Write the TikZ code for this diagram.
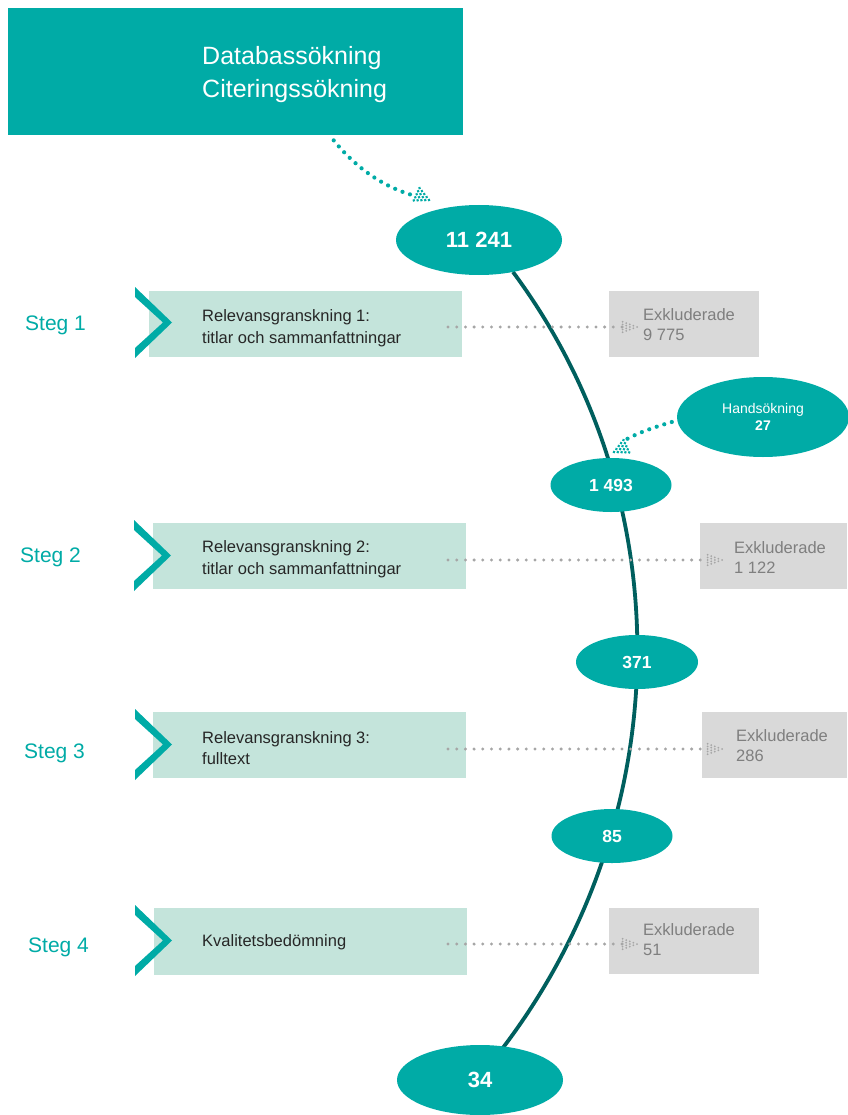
\documentclass[tikz,border=0pt]{standalone}
\usepackage{fontspec}
\setmainfont{Liberation Sans}
\usetikzlibrary{shapes.geometric}
\definecolor{teal1}{HTML}{00ABA6}
\definecolor{mint}{HTML}{C4E4DB}
\definecolor{darkteal}{HTML}{005F5E}
\definecolor{greybox}{HTML}{D9D9D9}
\definecolor{greytxt}{HTML}{7F7F7F}
\definecolor{greydot}{HTML}{A6A6A6}
\definecolor{boxtxt}{HTML}{262626}
\tikzset{
  ell/.style={ellipse, fill=teal1, text=white, inner sep=0pt, font=\bfseries},
  mintbox/.style={fill=mint, anchor=north west, inner sep=0pt, minimum width=313pt, minimum height=66pt},
  exbox/.style={fill=greybox, anchor=north west, inner sep=0pt, minimum height=66pt},
  boxtext/.style={anchor=west, align=left, text=boxtxt, inner sep=0pt, font=\fontsize{16.5}{21.5}\selectfont},
  extext/.style={anchor=west, align=left, text=greytxt, inner sep=0pt, font=\fontsize{16.5}{20}\selectfont},
  steglabel/.style={anchor=west, text=teal1, inner sep=0pt, font=\fontsize{21}{25}\selectfont},
  greydotline/.style={draw=greydot, line width=3.3pt, dash pattern=on 0pt off 8.7pt, line cap=round},
  tealdotline/.style={draw=teal1, line width=4.2pt, dash pattern=on 0pt off 7.9pt, line cap=round},
  chev/.pic={\fill[teal1] (0,0) -- (37,35.5) -- (0,71) -- (0,61) -- (28,35.5) -- (0,10) -- cycle;},
  greytip/.pic={\foreach \k in {0,...,4}{\foreach \j in {0,...,\k}{
      \fill[greydot] ({-3.6*\k pt},{(-1.3*\k+2.6*\j)*1pt}) circle[radius=1.0pt];}}},
  tealtip/.pic={\foreach \k in {0,...,4}{\foreach \j in {0,...,\k}{
      \fill[teal1] ({-3.4*\k pt},{(-1.7*\k+3.4*\j)*1pt}) circle[radius=1.5pt];}}},
}
\begin{document}
\begin{tikzpicture}[x=1pt,y=-1pt]
\useasboundingbox (0,0) rectangle (847,1115);

% top box
\node[fill=teal1, anchor=north west, inner sep=0pt, minimum width=455pt, minimum height=127pt] (top) at (8,8) {};
\node[anchor=west, align=left, text=white, inner sep=0pt, font=\fontsize{25}{33}\selectfont] (toptext) at (202,75) {Databassökning\\Citeringssökning};

% step rows
\node[mintbox] (r1) at (149,291) {};
\node[mintbox] (r2) at (153,523) {};
\node[mintbox] (r3) at (153,712) {};
\node[mintbox, minimum height=67pt] (r4) at (154,908) {};
\pic at (135,287) {chev};
\pic at (134,520) {chev};
\pic at (135,709) {chev};
\pic at (135,905) {chev};

\node[steglabel] (s1) at (25,325) {Steg 1};
\node[steglabel] (s2) at (20,557) {Steg 2};
\node[steglabel] (s3) at (24,753) {Steg 3};
\node[steglabel] (s4) at (28,947) {Steg 4};

\node[boxtext] (t1) at (202,328) {Relevansgranskning 1:\\titlar och sammanfattningar};
\node[boxtext] (t2) at (202,559) {Relevansgranskning 2:\\titlar och sammanfattningar};
\node[boxtext] (t3) at (202,748) {Relevansgranskning 3:\\fulltext};
\node[boxtext] (t4) at (202,942) {Kvalitetsbedömning};

% excluded boxes
\node[exbox, minimum width=150pt] (x1) at (609,291) {};
\node[exbox, minimum width=147pt] (x2) at (700,523) {};
\node[exbox, minimum width=145pt] (x3) at (702,712) {};
\node[exbox, minimum width=150pt] (x4) at (609,908) {};
\node[extext] (xt1) at (643,325) {Exkluderade\\9 775};
\node[extext] (xt2) at (734,558) {Exkluderade\\1 122};
\node[extext] (xt3) at (736,746) {Exkluderade\\286};
\node[extext] (xt4) at (643,940) {Exkluderade\\51};

% main curve
\coordinate (c0) at (513,272);
\coordinate (c1) at (502,1049);
\draw[darkteal, line width=3.8pt] (c0) .. controls (685,504) and (676,821) .. (c1);

% ellipses
\node[ell, minimum width=166pt, minimum height=70pt, font=\fontsize{22}{26}\selectfont\bfseries] (n1) at (479,240) {11 241};
\node[ell, minimum width=121pt, minimum height=54pt, font=\fontsize{17.5}{20}\selectfont\bfseries] (n2) at (611,485) {1 493};
\node[ell, minimum width=122pt, minimum height=54pt, font=\fontsize{17.5}{20}\selectfont\bfseries] (n3) at (637,662) {371};
\node[ell, minimum width=121pt, minimum height=54pt, font=\fontsize{17.5}{20}\selectfont\bfseries] (n4) at (612,836) {85};
\node[ell, minimum width=166pt, minimum height=70pt, font=\fontsize{22}{26}\selectfont\bfseries] (n5) at (480,1080) {34};
\node[ell, minimum width=172pt, minimum height=80pt, align=center, font=\fontsize{14}{17}\selectfont] (hand) at (763,417) {Handsökning\\\textbf{27}};

% grey dotted arrows
\draw[greydotline] (448,327) -- (622,327);
\pic at (637,327) {greytip};
\draw[greydotline] (448,560) -- (707,560);
\pic at (722,560) {greytip};
\draw[greydotline] (448,749) -- (707,749);
\pic at (722,749) {greytip};
\draw[greydotline] (448,944) -- (622,944);
\pic at (637,944) {greytip};

% teal dotted arrows
\coordinate (a0) at ([shift={(98pt,-5pt)}]top.south);
\coordinate (a1) at (412,195);
\draw[tealdotline] (a0) .. controls (352,163) and (378,185) .. (a1);
\pic[rotate=-25] at (429,200) {tealtip};
\coordinate (h0) at ([shift={(-5pt,-5pt)}]hand.west);
\coordinate (h1) at (627,439);
\draw[tealdotline] (h0) .. controls (655,427) and (640,432) .. (h1);
\pic[rotate=205] at (614,452) {tealtip};
\end{tikzpicture}
\end{document}
